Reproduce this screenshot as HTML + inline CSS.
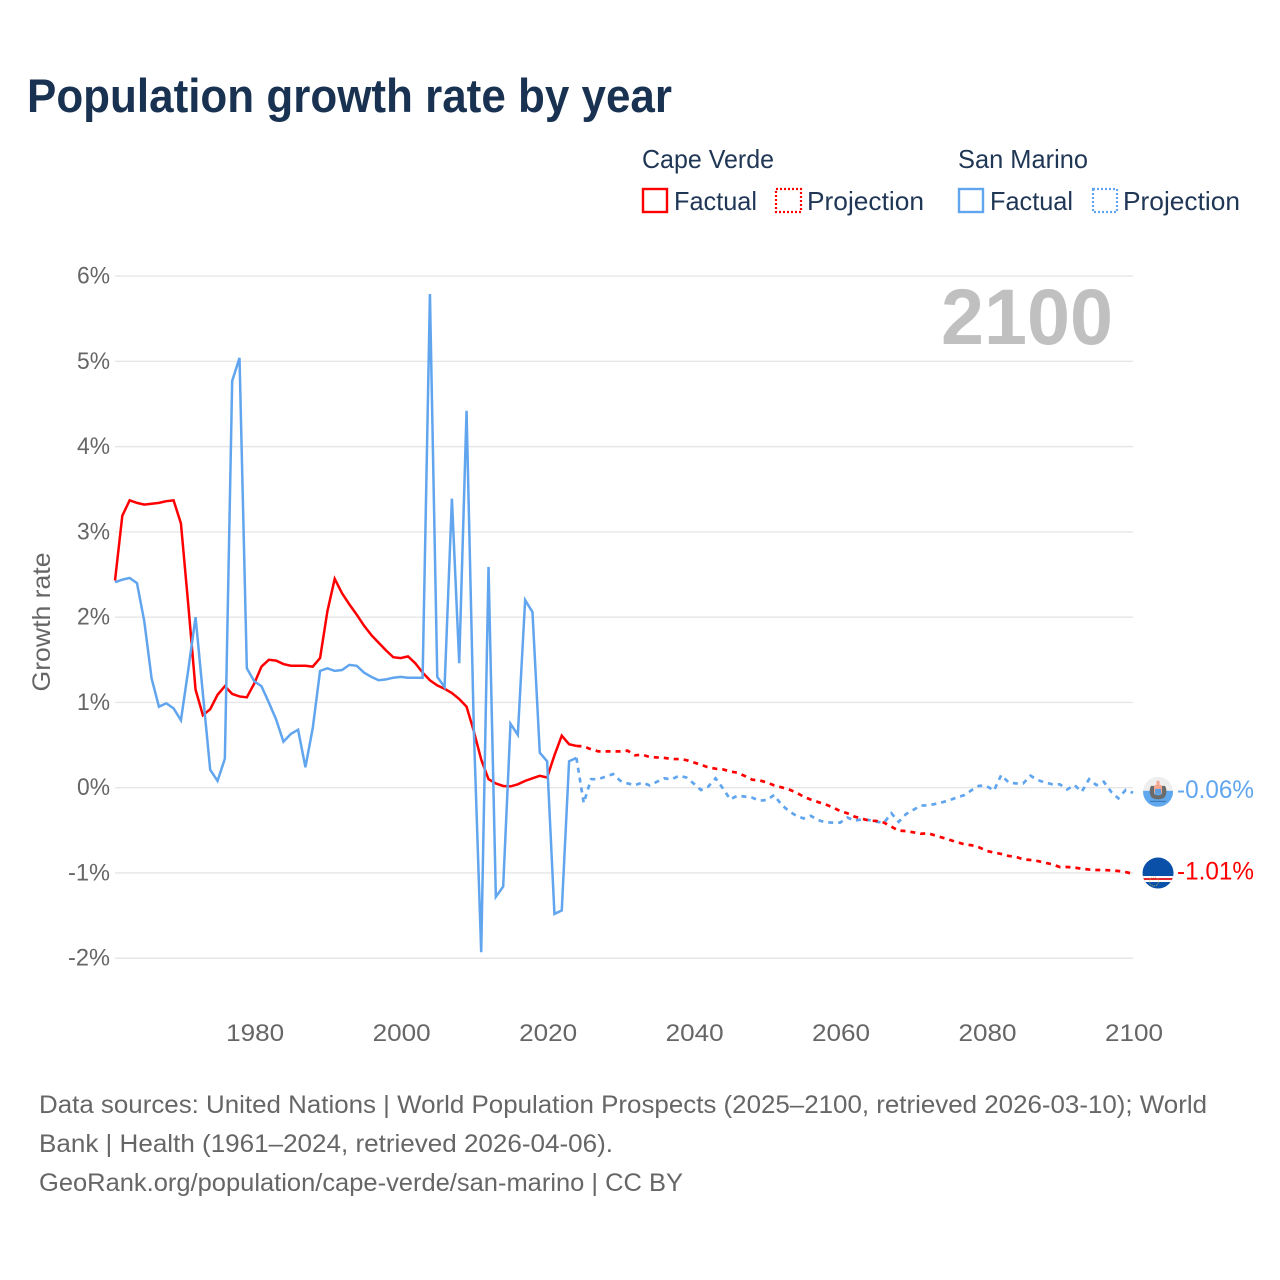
<!DOCTYPE html>
<html lang="en">
<head>
<meta charset="utf-8">
<title>Population growth rate by year</title>
<style>
html,body{margin:0;padding:0;background:#fff;}
svg{display:block;}
text{font-family:"Liberation Sans",sans-serif;}
</style>
</head>
<body>
<svg id="chart" xmlns="http://www.w3.org/2000/svg" width="1280" height="1280" viewBox="0 0 1280 1280">
  <rect width="1280" height="1280" fill="#ffffff"/>
  <text x="27" y="112" font-size="47" font-weight="700" fill="#1a3252" textLength="645" lengthAdjust="spacingAndGlyphs">Population growth rate by year</text>

  <g font-size="26" fill="#1f3655">
    <text x="642" y="168" textLength="132" lengthAdjust="spacingAndGlyphs">Cape Verde</text>
    <text x="958" y="168" textLength="130" lengthAdjust="spacingAndGlyphs">San Marino</text>
    <rect x="643" y="189" width="24" height="23" fill="none" stroke="#ff0000" stroke-width="2.4"/>
    <text x="674" y="210" textLength="83" lengthAdjust="spacingAndGlyphs">Factual</text>
    <rect x="776" y="189" width="25" height="23" fill="none" stroke="#ff0000" stroke-width="2.2" stroke-dasharray="2 2"/>
    <text x="807" y="210" textLength="117" lengthAdjust="spacingAndGlyphs">Projection</text>
    <rect x="959" y="189" width="24" height="23" fill="none" stroke="#60a5ee" stroke-width="2.4"/>
    <text x="990" y="210" textLength="83" lengthAdjust="spacingAndGlyphs">Factual</text>
    <rect x="1093" y="189" width="24" height="23" fill="none" stroke="#60a5ee" stroke-width="2.2" stroke-dasharray="2 2"/>
    <text x="1123" y="210" textLength="117" lengthAdjust="spacingAndGlyphs">Projection</text>
  </g>

  <g id="grid"></g>
  <g id="ylabels"></g>
  <g id="xlabels"></g>
  <text transform="translate(50,622) rotate(-90)" text-anchor="middle" font-size="25" fill="#666666" textLength="139" lengthAdjust="spacingAndGlyphs">Growth rate</text>
  <text x="941" y="344" font-size="79" font-weight="700" fill="#c0c0c0" textLength="172" lengthAdjust="spacingAndGlyphs">2100</text>

  <g id="series"></g>

  <defs>
    <clipPath id="flag-clip-a"><circle cx="0" cy="0" r="15"/></clipPath>
    <clipPath id="flag-clip-b"><circle cx="0" cy="0" r="15.5"/></clipPath>
  </defs>
  <g id="flag-san-marino">
    <g clip-path="url(#flag-clip-a)">
      <rect x="-15" y="-15" width="30" height="15" fill="#eeeeee"/>
      <rect x="-15" y="-1" width="30" height="16" fill="#5fa8ee"/>
      <path d="M-7 -6 A7 9 0 0 0 -6 6 Q0 9 6 6 A7 9 0 0 0 7 -6 L4 -6 L4 2 Q0 5 -4 2 L-4 -6 Z" fill="#6b6b6b"/>
      <rect x="-4" y="-7" width="8" height="9" rx="2" fill="#f4a58f"/>
      <rect x="-3" y="-3" width="6" height="5" rx="1" fill="#5a9ee0"/>
      <rect x="-1.5" y="-11" width="3" height="5" fill="#f4a58f"/>
      <rect x="-8" y="9" width="16" height="1.2" fill="#2b5d8f" opacity="0.6"/>
    </g>
  </g>
  <g id="flag-cape-verde">
    <g clip-path="url(#flag-clip-b)">
      <rect x="-16" y="-16" width="32" height="32" fill="#0a50a8"/>
      <rect x="-16" y="3" width="32" height="6" fill="#ffffff"/>
      <rect x="-16" y="5" width="32" height="2" fill="#e0242a"/>
      <circle cx="-4" cy="8.5" r="4.5" fill="none" stroke="#c9b458" stroke-width="0.8" stroke-dasharray="1 1"/>
    </g>
  </g>
  <text id="end-label-sm" x="1177" font-size="25" fill="#60a5ee" textLength="77" lengthAdjust="spacingAndGlyphs">-0.06%</text>
  <text id="end-label-cv" x="1177" font-size="25" fill="#ff0000" textLength="77" lengthAdjust="spacingAndGlyphs">-1.01%</text>

  <g font-size="25" fill="#666666">
    <text x="39" y="1113" textLength="1168" lengthAdjust="spacingAndGlyphs">Data sources: United Nations | World Population Prospects (2025–2100, retrieved 2026-03-10); World</text>
    <text x="39" y="1152" textLength="574" lengthAdjust="spacingAndGlyphs">Bank | Health (1961–2024, retrieved 2026-04-06).</text>
    <text x="39" y="1191" textLength="644" lengthAdjust="spacingAndGlyphs">GeoRank.org/population/cape-verde/san-marino | CC BY</text>
  </g>
</svg>

<script>
const yTicks = [6, 5, 4, 3, 2, 1, 0, -1, -2];
const xTicks = [1980, 2000, 2020, 2040, 2060, 2080, 2100];
const factualStartYear = 1961;
const projectionStartYear = 2024;

const capeVerdeFactual = [
  2.43,3.19,3.37,3.34,3.32,3.33,3.34,3.36,3.37,3.10,
  2.15,1.15,0.85,0.92,1.09,1.19,1.10,1.07,1.06,1.22,
  1.42,1.50,1.49,1.45,1.43,1.43,1.43,1.42,1.52,2.07,
  2.45,2.28,2.15,2.03,1.90,1.79,1.70,1.61,1.53,1.52,
  1.54,1.46,1.35,1.26,1.20,1.16,1.11,1.04,0.95,0.66,
  0.33,0.10,0.05,0.02,0.015,0.04,0.08,0.11,0.14,0.12,
  0.38,0.61,0.51,0.49
];
const sanMarinoFactual = [
  2.41,2.44,2.46,2.40,1.95,1.28,0.95,0.99,0.93,0.79,
  1.38,2.00,1.10,0.21,0.08,0.34,4.77,5.04,1.40,1.25,
  1.19,1.00,0.80,0.54,0.63,0.68,0.24,0.70,1.37,1.40,
  1.37,1.38,1.44,1.43,1.35,1.30,1.26,1.27,1.29,1.30,
  1.29,1.29,1.29,5.79,1.30,1.18,3.39,1.46,4.42,0.66,
  -1.93,2.59,-1.28,-1.16,0.75,0.62,2.20,2.06,0.41,0.31,
  -1.48,-1.44,0.31,0.35
];
const capeVerdeProjection = [
  0.49,0.484,0.45,0.426,0.426,0.426,0.426,0.434,0.38,0.387,
  0.36,0.355,0.35,0.336,0.336,0.324,0.297,0.27,0.238,0.223,
  0.215,0.19,0.176,0.137,0.094,0.086,0.0625,0.027,0.004,-0.02,
  -0.055,-0.105,-0.14,-0.168,-0.195,-0.23,-0.273,-0.30,-0.34,-0.363,
  -0.387,-0.39,-0.41,-0.457,-0.504,-0.508,-0.523,-0.54,-0.535,-0.56,
  -0.586,-0.613,-0.64,-0.664,-0.676,-0.70,-0.74,-0.76,-0.777,-0.80,
  -0.81,-0.84,-0.848,-0.86,-0.88,-0.90,-0.93,-0.93,-0.937,-0.95,
  -0.96,-0.965,-0.965,-0.97,-0.977,-0.99,-1.01
];
const sanMarinoProjection = [
  0.35,-0.18,0.10,0.10,0.13,0.16,0.08,0.05,0.03,0.06,
  0.027,0.07,0.11,0.098,0.14,0.12,0.05,-0.027,0.012,0.11,
  -0.008,-0.137,-0.094,-0.105,-0.117,-0.152,-0.145,-0.086,-0.20,-0.273,
  -0.328,-0.36,-0.33,-0.38,-0.406,-0.41,-0.41,-0.35,-0.387,-0.37,
  -0.38,-0.40,-0.41,-0.30,-0.40,-0.31,-0.26,-0.21,-0.207,-0.19,
  -0.17,-0.145,-0.113,-0.086,-0.027,0.023,0.02,-0.035,0.148,0.0625,
  0.05,0.05,0.14,0.09,0.06,0.04,0.04,-0.02,0.03,-0.047,
  0.10,0.03,0.07,-0.047,-0.125,-0.027,-0.06
];

const NS = 'http://www.w3.org/2000/svg';
const plotLeft = 115, pxPerYear = 7.324, zeroY = 787.7, pxPerPct = 85.27;
function xScale(year) { return plotLeft + (year - factualStartYear) * pxPerYear; }
function yScale(val) { return zeroY - val * pxPerPct; }
function linePath(values, startYear) {
  return values.map(function (v, i) {
    return (i ? 'L' : 'M') + xScale(startYear + i).toFixed(2) + ' ' + yScale(v).toFixed(2);
  }).join(' ');
}

const grid = document.getElementById('grid');
const ylabels = document.getElementById('ylabels');
const xlabels = document.getElementById('xlabels');
yTicks.forEach(function (t) {
  const ln = document.createElementNS(NS, 'line');
  
  
  ln.setAttribute('x1', plotLeft);
  ln.setAttribute('x2', xScale(2100));
  ln.setAttribute('y1', yScale(t));
  ln.setAttribute('y2', yScale(t));
  ln.setAttribute('stroke', '#e6e6e6');
  ln.setAttribute('stroke-width', '1.4');
  grid.appendChild(ln);
  const tx = document.createElementNS(NS, 'text');
  
  
  tx.setAttribute('x', 110);
  tx.setAttribute('y', yScale(t) + 7.5);
  tx.setAttribute('text-anchor', 'end');
  tx.setAttribute('font-size', '24');
  tx.setAttribute('fill', '#666666');
  tx.setAttribute('textLength', t < 0 ? 42 : 33);
  tx.setAttribute('lengthAdjust', 'spacingAndGlyphs');
  tx.textContent = t + '%';
  ylabels.appendChild(tx);
});
xTicks.forEach(function (t) {
  const tx = document.createElementNS(NS, 'text');
  
  
  tx.setAttribute('x', xScale(t) + 1);
  tx.setAttribute('y', 1041);
  tx.setAttribute('text-anchor', 'middle');
  tx.setAttribute('font-size', '24');
  tx.setAttribute('fill', '#666666');
  tx.setAttribute('textLength', 58);
  tx.setAttribute('lengthAdjust', 'spacingAndGlyphs');
  tx.textContent = t;
  xlabels.appendChild(tx);
});

const seriesGroup = document.getElementById('series');
function addLine(values, startYear, color, dashed, name) {
  const p = document.createElementNS(NS, 'path');
  
  
  p.setAttribute('d', linePath(values, startYear));
  p.setAttribute('fill', 'none');
  p.setAttribute('stroke', color);
  p.setAttribute('stroke-width', dashed ? '2.7' : '2.5');
  p.setAttribute('stroke-linejoin', 'miter');
  if (dashed) p.setAttribute('stroke-dasharray', '5 5');
  seriesGroup.appendChild(p);
}
addLine(capeVerdeFactual, factualStartYear, '#ff0000', false, 'cape-verde-factual-line');
addLine(sanMarinoFactual, factualStartYear, '#60a5ee', false, 'san-marino-factual-line');
addLine(sanMarinoProjection, projectionStartYear, '#60a5ee', true, 'san-marino-projection-line');
addLine(capeVerdeProjection, projectionStartYear, '#ff0000', true, 'cape-verde-projection-line');

const lastSM = sanMarinoProjection[sanMarinoProjection.length - 1];
const lastCV = capeVerdeProjection[capeVerdeProjection.length - 1];
const flagX = xScale(2100) + 25;
document.getElementById('flag-san-marino').setAttribute('transform', 'translate(' + flagX + ',' + (yScale(lastSM) - 1) + ')');
document.getElementById('flag-cape-verde').setAttribute('transform', 'translate(' + flagX + ',' + (yScale(lastCV) - 0.8) + ')');
const labelSM = document.getElementById('end-label-sm');
labelSM.setAttribute('y', yScale(lastSM) + 5);
labelSM.textContent = lastSM.toFixed(2) + '%';
const labelCV = document.getElementById('end-label-cv');
labelCV.setAttribute('y', yScale(lastCV) + 5.5);
labelCV.textContent = lastCV.toFixed(2) + '%';
</script>
</body>
</html>
